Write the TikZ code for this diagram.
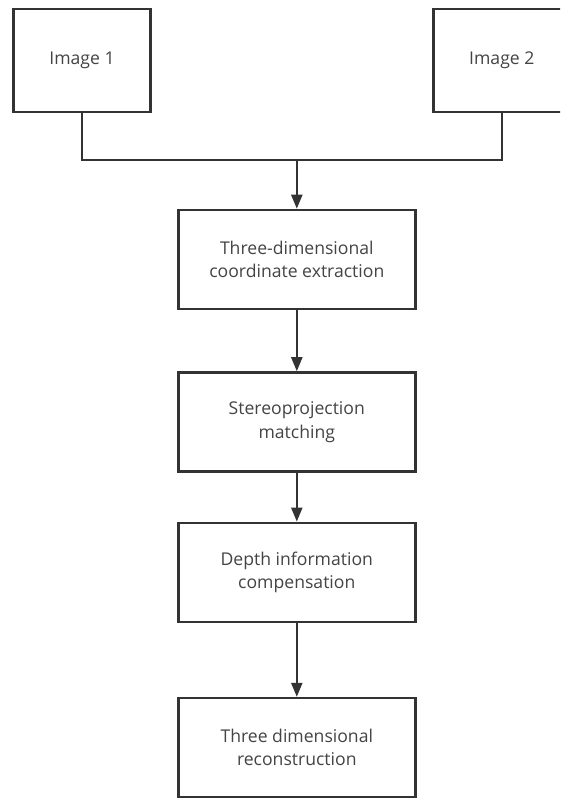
\documentclass[tikz,border=0pt]{standalone}
\usepackage{fontspec}
\setmainfont{Open Sans}
\usetikzlibrary{arrows.meta}
\definecolor{edge}{HTML}{333333}
\definecolor{ink}{HTML}{444444}
\begin{document}
\begin{tikzpicture}[x=1pt,y=-1pt,
  box/.style={draw=edge, line width=2.4pt, fill=white, minimum width=237pt,
    minimum height=99pt, align=center, text=ink,
    font=\fontsize{17.6}{23.7}\selectfont, inner sep=0pt},
  srcbox/.style={box, minimum width=137pt, minimum height=103pt},
  link/.style={draw=edge, line width=2.2pt},
  flow/.style={link, -{Triangle[length=14pt,width=11pt]}}]
  \useasboundingbox (0,0) rectangle (560,798);
  \clip (0,0) rectangle (560,798);

  % input images
  \node[srcbox] (img1) at (82,60.5) {Image 1};
  \node[srcbox] (img2) at (501.8,60.5) {Image 2};

  % processing chain
  \node[box] (b1) at (296.8,259.4) {Three-dimensional\\coordinate extraction};
  \node[box] (b2) at (296.8,421.9) {Stereoprojection\\matching};
  \node[box] (b3) at (296.8,572.3) {Depth information\\compensation};
  \node[box] (b4) at (296.8,747.5) {Three dimensional\\reconstruction};

  % merge of the two images
  \coordinate (join) at (296.8,160.3);
  \draw[link] (img1.south) |- (join) -| (img2.south);
  \draw[flow] (join) -- (b1.north);
  \draw[flow] (b1) -- (b2);
  \draw[flow] (b2) -- (b3);
  \draw[flow] (b3) -- (b4);
\end{tikzpicture}
\end{document}
